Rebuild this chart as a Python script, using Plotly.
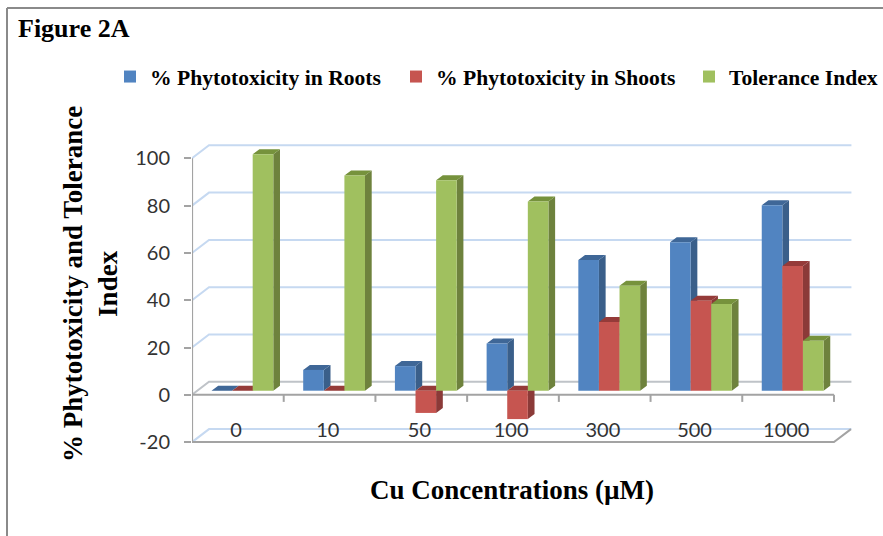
import plotly.graph_objects as go

# Measured responses per copper concentration
categories = ["0", "10", "50", "100", "300", "500", "1000"]
roots = [0, 8.8, 10.4, 20, 55.3, 62.8, 78.4]
shoots = [0, 0, -9.4, -12, 29, 38, 52.7]
tolerance = [100, 91, 89, 80, 44.4, 36.7, 21.1]
y_ticks = [-20, 0, 20, 40, 60, 80, 100]

W, H = 883, 536
X0_PX, PX_PER_CAT = 192, 91.71
Y0_PX, PX_PER_UNIT = 394.8, 2.365

# Pseudo-3D projection, expressed in data units
WALL_DX, WALL_DY = 17 / PX_PER_CAT, 13 / PX_PER_UNIT
BAR_DX, BAR_DY = 6.7 / PX_PER_CAT, 5 / PX_PER_UNIT
BAR_BASE = 4.1 / PX_PER_UNIT
BAR_W = 20.6 / PX_PER_CAT
GROUP_START = 0.2125
RIGHT = 7 + WALL_DX + 0.005

series = [
    ("<b>% Phytotoxicity in Roots</b>", roots, "#5184C1", "#3A5F8A", "#3F6797", "legend"),
    ("<b>% Phytotoxicity in Shoots</b>", shoots, "#C65550", "#8B3A38", "#953B39", "legend2"),
    ("<b>Tolerance Index</b>", tolerance, "#A0C05F", "#6E823D", "#76923C", "legend3"),
]

GRID = "#C6D9F1"
AXIS = "#A3A3A3"
TEXT = "#333333"
SERIF = "Liberation Serif"

fig = go.Figure()


def line(xs, ys, color, width, z=0):
    fig.add_trace(go.Scatter(x=xs, y=ys, mode="lines", line=dict(color=color, width=width),
                             showlegend=False, hoverinfo="skip", zorder=z))


# Back wall gridlines with their short diagonal on the side wall
for v in y_ticks:
    color = "#BFC3C8" if v == 0 else GRID
    line([0, WALL_DX, RIGHT], [v, v + WALL_DY, v + WALL_DY], color, 2)

# Chart frame: vertical axis, zero line and floor edge
line([0, 0], [-20, 100], AXIS, 2.2)
line([0, 7, 7 + WALL_DX], [-20, -20, -20 + WALL_DY], AXIS, 2)
line([0, 7], [0, 0], AXIS, 2)
tick_x, tick_y = [], []
for i in range(1, 8):
    tick_x += [i, i, None]
    tick_y += [0, -3, None]
line(tick_x, tick_y, AXIS, 2)

# Side and top faces first, front faces on a higher layer
for s, (name, vals, front, side, top, legend_id) in enumerate(series):
    sx, sy, tx, ty = [], [], [], []
    for i, v in enumerate(vals):
        left = i + GROUP_START + s * BAR_W
        right = left + BAR_W
        end = BAR_BASE + v
        upper = max(BAR_BASE, end)
        lower = min(BAR_BASE, end)
        sx += [right, right + BAR_DX, right + BAR_DX, right, right, None]
        sy += [lower, lower + BAR_DY, upper + BAR_DY, upper, lower, None]
        tx += [left, left + BAR_DX, right + BAR_DX, right, left, None]
        ty += [upper, upper + BAR_DY, upper + BAR_DY, upper, upper, None]
    for xs, ys, color in ((sx, sy, side), (tx, ty, top)):
        fig.add_trace(go.Scatter(x=xs, y=ys, mode="lines", fill="toself", fillcolor=color,
                                 line=dict(width=0, color=color), showlegend=False,
                                 hoverinfo="skip", zorder=1))

for s, (name, vals, front, side, top, legend_id) in enumerate(series):
    fig.add_trace(go.Bar(
        x=[i + GROUP_START + (s + 0.5) * BAR_W for i in range(len(vals))],
        y=vals, base=BAR_BASE, width=BAR_W, name=name,
        marker=dict(color=front, line=dict(width=0)),
        legend=legend_id, zorder=2,
    ))

# Category labels sit on the floor, between the front edge and the back wall
fig.add_trace(go.Scatter(
    x=[i + 0.48 for i in range(len(categories))], y=[-15.7] * len(categories),
    mode="text", text=categories, textposition="middle center",
    textfont=dict(family="Lato", size=20, color=TEXT),
    showlegend=False, hoverinfo="skip", zorder=3,
))

legend_font = dict(family=SERIF, size=21.6, color="#000000")


def legend_at(px):
    return dict(x=px / W, y=1 - 56 / H, xanchor="left", yanchor="top", orientation="h",
                bgcolor="rgba(0,0,0,0)", font=legend_font, borderwidth=0)


fig.update_layout(
    width=W, height=H, autosize=False,
    margin=dict(l=0, r=0, t=0, b=0),
    paper_bgcolor="white", plot_bgcolor="white",
    barmode="overlay",
    legend=legend_at(110),
    legend2=legend_at(396),
    legend3=legend_at(689),
    xaxis=dict(domain=[X0_PX / W, 1], range=[0, (W - X0_PX) / PX_PER_CAT],
               showgrid=False, zeroline=False, showticklabels=False, ticks=""),
    yaxis=dict(range=[(Y0_PX - H) / PX_PER_UNIT, Y0_PX / PX_PER_UNIT],
               tickmode="array", tickvals=y_ticks, ticktext=[str(v) for v in y_ticks],
               ticks="outside", ticklen=7, tickwidth=2, tickcolor=AXIS,
               ticklabelstandoff=10,
               tickfont=dict(family="Lato", size=20, color=TEXT),
               showgrid=False, zeroline=False, showline=False),
    shapes=[
        dict(type="line", xref="paper", yref="paper", x0=7 / W, x1=1.0,
             y0=1 - 8 / H, y1=1 - 8 / H, line=dict(color="#8A8A8A", width=2)),
        dict(type="line", xref="paper", yref="paper", x0=7 / W, x1=7 / W,
             y0=0, y1=1 - 8 / H, line=dict(color="#8A8A8A", width=2)),
    ],
    annotations=[
        dict(text="<b>Figure 2A</b>", xref="paper", yref="paper", x=16 / W, y=1 - 28 / H,
             xanchor="left", yanchor="middle", showarrow=False,
             font=dict(family=SERIF, size=26, color="#000000")),
        dict(text="<b>Cu Concentrations (µM)</b>", xref="paper", yref="paper", x=512 / W, y=1 - 490 / H,
             xanchor="center", yanchor="middle", showarrow=False,
             font=dict(family=SERIF, size=27, color="#000000")),
        dict(text="<b>% Phytotoxicity and Tolerance<br>Index</b>", xref="paper", yref="paper",
             x=90 / W, y=1 - 284 / H, xanchor="center", yanchor="middle", showarrow=False,
             textangle=-90, font=dict(family=SERIF, size=27, color="#000000")),
    ],
)

fig.write_html("out.html")
